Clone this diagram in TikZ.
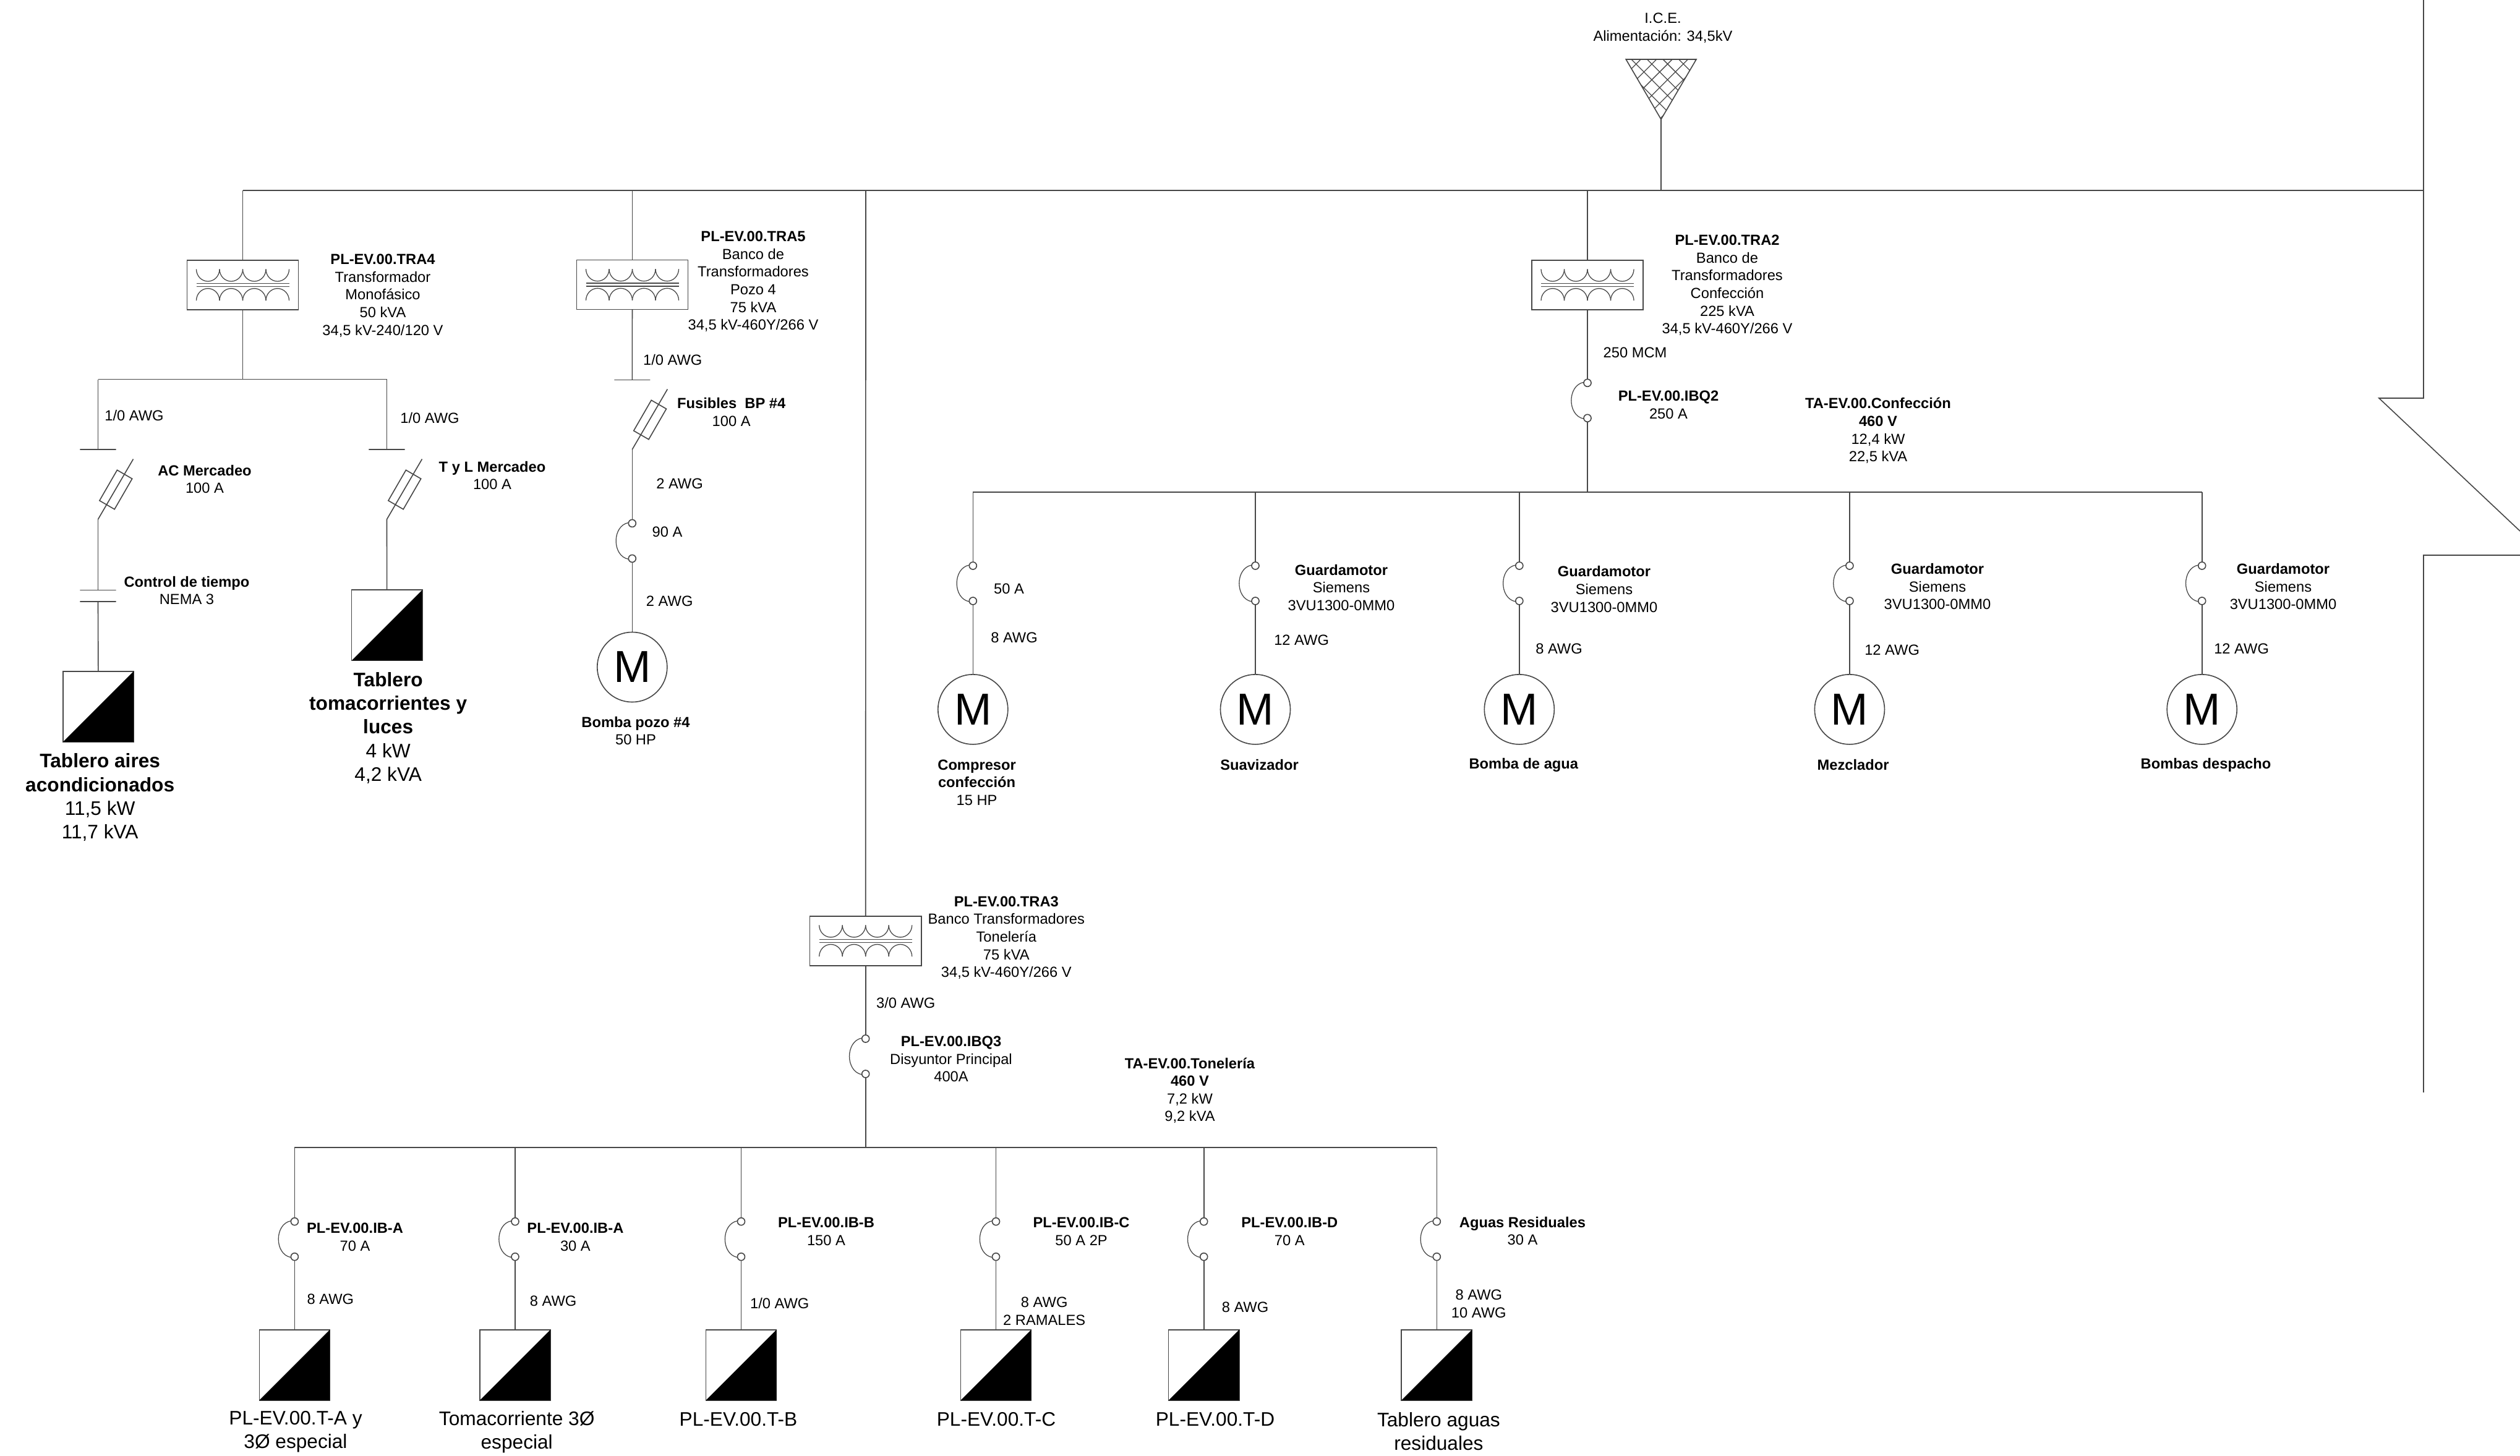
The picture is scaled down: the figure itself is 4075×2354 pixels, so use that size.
\documentclass[tikz,border=0pt]{standalone}
\usepackage{fontspec}
\setmainfont{Liberation Sans}
\tikzset{
  wire/.style={draw=black!72,line width=0.46pt,line join=miter},
  txts/.style={font={\fontsize{6.74}{8.15}\selectfont},align=center,inner sep=0pt,outer sep=0pt,text=black},
  txtl/.style={font={\fontsize{9}{10.85}\selectfont},align=center,inner sep=0pt,outer sep=0pt,text=black},
  xfbox/.style={wire,rectangle,minimum width=1.8cm,minimum height=0.8cm,inner sep=0pt,outer sep=0pt},
  winding/.style={draw=black!72,line width=0.36pt},
  brkc/.style={wire,circle,fill=white,minimum size=0.12cm,inner sep=0pt,outer sep=0pt},
  brkarc/.style={draw=black!72,line width=0.36pt},
  fusebox/.style={wire,rectangle,minimum width=0.57cm,minimum height=0.28cm,inner sep=0pt,outer sep=0pt,rotate=60},
  barline/.style={wire,rectangle,minimum width=0.58cm,minimum height=0pt,inner sep=0pt,outer sep=0pt},
  panelbox/.style={wire,rectangle,fill=white,minimum width=1.14cm,minimum height=1.14cm,inner sep=0pt,outer sep=0pt},
  motorc/.style={wire,circle,minimum size=1.13cm,inner sep=0pt,outer sep=0pt,font={\fontsize{20.6}{22}\selectfont},text=black},
}
\newcommand{\xfmr}[3]{%
  \node[xfbox] (#1) at (#2,#3) {};
  \begin{scope}[shift={(#2,#3)}]
    \foreach \k in {0,1,2,3}{
      \draw[winding] ({-75+37.5*\k},-25.4) arc[start angle=180,end angle=360,x radius=0.1875cm,y radius=0.196cm];
      \draw[winding] ({-75+37.5*\k},25.4) arc[start angle=180,end angle=0,x radius=0.1875cm,y radius=0.196cm];
    }
    \draw[winding] (-75,-2.5) -- (75,-2.5);
    \draw[winding] (-75,2.5) -- (75,2.5);
  \end{scope}}
\newcommand{\brkr}[3]{%
  \node[brkc] (#1a) at (#2,#3) {};
  \node[brkc] (#1b) at (#2,{#3+57}) {};
  \draw[brkarc] (#1a.170) .. controls +(-27,5) and +(-27,-5) .. (#1b.190);}
\newcommand{\fuse}[3]{%
  \coordinate (#1p) at (#2,#3);
  \coordinate (#1q) at ({#2+57},{#3-97.5});
  \node[fusebox] (#1) at ({#2+28.8},{#3-48}) {};
  \draw[wire] (#1p) -- (#1q);}
\newcommand{\panel}[3]{%
  \node[panelbox] (#1) at (#2,#3) {};
  \fill[black] (#1.south west) -- (#1.north east) -- (#1.south east) -- cycle;}
\begin{document}
\begin{tikzpicture}[x=0.01cm,y=-0.01cm]
\useasboundingbox (0,0) rectangle (4075,2354);

% --- source
\coordinate (srcL) at (2629.3,96);
\coordinate (srcR) at (2743,96);
\coordinate (srcT) at (2686,193);
\begin{scope}
  \clip (srcL) -- (srcR) -- (srcT) -- cycle;
  \foreach \s in {-1,0,...,6}{
    \draw[winding] ({2586.7+25.6*\s},96) -- ({2586.7+25.6*\s+120},216);
    \draw[winding] ({2653.3+25.4*\s},96) -- ({2653.3+25.4*\s-120},216);
  }
\end{scope}
\draw[wire] (srcL) -- (srcR) -- (srcT) -- cycle;
\node[txts] (ice) at (2689,45) {I.C.E.\\Alimentación: 34,5kV};

% --- main bus and right-hand outline
\coordinate (b4) at (392.5,308);
\coordinate (b5) at (1022.5,308);
\coordinate (b3) at (1400,308);
\coordinate (b2) at (2567,308);
\coordinate (bs) at (2686,308);
\coordinate (bE) at (3919,308);
\coordinate (oa) at (3919,0);
\coordinate (ob) at (3919,644);
\coordinate (oc) at (3847,644);
\coordinate (od) at (4075,859);
\coordinate (oe) at (4075,898);
\coordinate (of) at (3919,898);
\coordinate (og) at (3919,1767);
\draw[wire] (b4) -- (bE);
\draw[wire] (srcT) -- (bs);
\draw[wire] (oa) -- (ob) -- (oc) -- (od);
\draw[wire] (oe) -- (of) -- (og);

% --- TRA4 branch
\xfmr{t4}{392.5}{460.8}
\draw[wire] (b4) -- (t4);
\coordinate (s4) at (392.5,613.5);
\coordinate (s4L) at (158.5,613.5);
\coordinate (s4R) at (625.5,613.5);
\draw[wire] (t4) -- (s4);
\draw[wire] (s4L) -- (s4R);
\node[barline] (barA) at (158.5,727) {};
\node[barline] (barB) at (625.5,727) {};
\draw[wire] (s4L) -- (barA.north);
\draw[wire] (s4R) -- (barB.north);
\fuse{fa}{158.5}{840}
\fuse{fb}{625.5}{840}
\node[barline] (kA) at (158.5,954.5) {};
\node[barline] (kB) at (158.5,973) {};
\panel{pA}{159}{1142.8}
\panel{pB}{625.7}{1011.3}
\draw[wire] (fap) -- (kA.north);
\draw[wire] (kB.south) -- (pA);
\draw[wire] (fbp) -- (pB);

\node[txts] (l4) at (619,478) {\textbf{PL-EV.00.TRA4}\\Transformador\\Monofásico\\50 kVA\\34,5 kV-240/120 V};
\node[txts] (l4a) at (217,672) {1/0 AWG};
\node[txts] (l4b) at (695,676) {1/0 AWG};
\node[txts] (lac) at (331,775) {\textbf{AC Mercadeo}\\100 A};
\node[txts] (lty) at (796,769) {\textbf{T y L Mercadeo}\\100 A};
\node[txts] (lct) at (302,955) {\textbf{Control de tiempo}\\NEMA 3};
\node[txtl] (lpA) at (161.7,1289.7) {\textbf{Tablero aires}\\\textbf{acondicionados}\\11,5 kW\\11,7 kVA};
\node[txtl] (lpB) at (627.7,1177.5) {\textbf{Tablero}\\\textbf{tomacorrientes y}\\\textbf{luces}\\4 kW\\4,2 kVA};

% --- TRA5 branch
\xfmr{t5}{1022.5}{460.5}
\draw[wire] (b5) -- (t5);
\node[barline] (barC) at (1022.3,614.3) {};
\draw[wire] (t5) -- (barC.north);
\fuse{fc}{1022.3}{727}
\brkr{q5}{1022.3}{846.4}
\draw[wire] (fcp) -- (q5a);
\node[motorc] (m5) at (1022.3,1079) {M};
\draw[wire] (q5b) -- (m5);
\node[txts] (l5) at (1218,455.5) {\textbf{PL-EV.00.TRA5}\\Banco de\\Transformadores\\Pozo 4\\75 kVA\\34,5 kV-460Y/266 V};
\node[txts] (l5a) at (1087.7,582) {1/0 AWG};
\node[txts] (l5b) at (1182.7,666.7) {\textbf{Fusibles\ \ BP \#4}\\100 A};
\node[txts] (l5c) at (1099,782) {2 AWG};
\node[txts] (l5d) at (1079,860) {90 A};
\node[txts] (l5e) at (1082.7,972) {2 AWG};
\node[txts] (l5f) at (1028,1182) {\textbf{Bomba pozo \#4}\\50 HP};

% --- TRA2 branch
\xfmr{t2}{2567}{460.8}
\draw[wire] (b2) -- (t2);
\brkr{q2}{2567}{619.3}
\draw[wire] (t2) -- (q2a);
\coordinate (s2) at (2567,795.8);
\coordinate (s2a) at (1573.3,795.8);
\coordinate (s2b) at (2030,795.8);
\coordinate (s2c) at (2456.8,795.8);
\coordinate (s2d) at (2990.9,795.8);
\coordinate (s2e) at (3560.7,795.8);
\draw[wire] (q2b) -- (s2);
\draw[wire] (s2a) -- (s2e);
\foreach \n/\xx in {a/1573.3,b/2030,c/2456.8,d/2990.9,e/3560.7}{
  \brkr{g\n}{\xx}{915}
  \node[motorc] (m\n) at (\xx,1147.4) {M};
  \draw[wire] (s2\n) -- (g\n a);
  \draw[wire] (g\n b) -- (m\n);
}
\node[txts] (l2) at (2793,461.3) {\textbf{PL-EV.00.TRA2}\\Banco de\\Transformadores\\Confección\\225 kVA\\34,5 kV-460Y/266 V};
\node[txts] (l2a) at (2644,570) {250 MCM};
\node[txts] (l2b) at (2698,655) {\textbf{PL-EV.00.IBQ2}\\250 A};
\node[txts] (l2c) at (3037,696.8) {\textbf{TA-EV.00.Confección}\\\textbf{460 V}\\12,4 kW\\22,5 kVA};
\node[txts] (lga) at (1631.6,952) {50 A};
\node[txts] (lga2) at (1640,1031.8) {8 AWG};
\node[txts] (lgb) at (2169,950.5) {\textbf{Guardamotor}\\Siemens\\3VU1300-0MM0};
\node[txts] (lgb2) at (2104.6,1035) {12 AWG};
\node[txts] (lgc) at (2594,953) {\textbf{Guardamotor}\\Siemens\\3VU1300-0MM0};
\node[txts] (lgc2) at (2521,1049.6) {8 AWG};
\node[txts] (lgd) at (3133,948.7) {\textbf{Guardamotor}\\Siemens\\3VU1300-0MM0};
\node[txts] (lgd2) at (3059.6,1051.7) {12 AWG};
\node[txts] (lge) at (3692,948.7) {\textbf{Guardamotor}\\Siemens\\3VU1300-0MM0};
\node[txts] (lge2) at (3624.6,1049) {12 AWG};
\node[txts] (lma) at (1579.6,1265.7) {\textbf{Compresor}\\\textbf{confección}\\15 HP};
\node[txts] (lmb) at (2036.5,1237) {\textbf{Suavizador}};
\node[txts] (lmc) at (2463.9,1237) {\textbf{Bomba de agua}};
\node[txts] (lmd) at (2996.5,1237) {\textbf{Mezclador}};
\node[txts] (lme) at (3567,1237) {\textbf{Bombas despacho}};

% --- TRA3 branch
\xfmr{t3}{1399.7}{1521.7}
\draw[wire] (b3) -- (t3);
\brkr{q3}{1399.7}{1680}
\draw[wire] (t3) -- (q3a);
\coordinate (s3) at (1399.7,1856);
\coordinate (s3a) at (476.4,1856);
\coordinate (s3b) at (833,1856);
\coordinate (s3c) at (1198.5,1856);
\coordinate (s3d) at (1610.5,1856);
\coordinate (s3e) at (1946.7,1856);
\coordinate (s3f) at (2323.3,1856);
\draw[wire] (q3b) -- (s3);
\draw[wire] (s3a) -- (s3f);
\foreach \n/\xx in {a/476.4,b/833,c/1198.5,d/1610.5,e/1946.7,f/2323.3}{
  \brkr{h\n}{\xx}{1975.7}
  \panel{r\n}{\xx}{2207.8}
  \draw[wire] (s3\n) -- (h\n a);
  \draw[wire] (h\n b) -- (r\n);
}
\node[txts] (l3) at (1627.3,1516.7) {\textbf{PL-EV.00.TRA3}\\Banco Transformadores\\Tonelería\\75 kVA\\34,5 kV-460Y/266 V};
\node[txts] (l3a) at (1464.7,1622.3) {3/0 AWG};
\node[txts] (l3b) at (1538,1713) {\textbf{PL-EV.00.IBQ3}\\Disyuntor Principal\\400A};
\node[txts] (l3c) at (1924,1763.8) {\textbf{TA-EV.00.Tonelería}\\\textbf{460 V}\\7,2 kW\\9,2 kVA};
\node[txts] (lha) at (574,2000.5) {\textbf{PL-EV.00.IB-A}\\70 A};
\node[txts] (lha2) at (534.4,2101.5) {8 AWG};
\node[txts] (lhb) at (930.4,2000.5) {\textbf{PL-EV.00.IB-A}\\30 A};
\node[txts] (lhb2) at (894.6,2104) {8 AWG};
\node[txts] (lhc) at (1336,1992) {\textbf{PL-EV.00.IB-B}\\150 A};
\node[txts] (lhc2) at (1260.7,2107.7) {1/0 AWG};
\node[txts] (lhd) at (1748.6,1992) {\textbf{PL-EV.00.IB-C}\\50 A 2P};
\node[txts] (lhd2) at (1688.7,2120.5) {8 AWG\\2 RAMALES};
\node[txts] (lhe) at (2085.3,1992) {\textbf{PL-EV.00.IB-D}\\70 A};
\node[txts] (lhe2) at (2013.5,2114.2) {8 AWG};
\node[txts] (lhf) at (2462,1991) {\textbf{Aguas Residuales}\\30 A};
\node[txts] (lhf2) at (2391.3,2109) {8 AWG\\10 AWG};
\node[txtl] (lra) at (478,2316) {PL-EV.00.T-A y\\3Ø especial};
\node[txtl] (lrb) at (835.7,2316) {Tomacorriente 3Ø\\especial};
\node[txtl] (lrc) at (1194,2296) {PL-EV.00.T-B};
\node[txtl] (lrd) at (1611,2296) {PL-EV.00.T-C};
\node[txtl] (lre) at (1965,2296) {PL-EV.00.T-D};
\node[txtl] (lrf) at (2326.4,2315) {Tablero aguas\\residuales};
\end{tikzpicture}
\end{document}
